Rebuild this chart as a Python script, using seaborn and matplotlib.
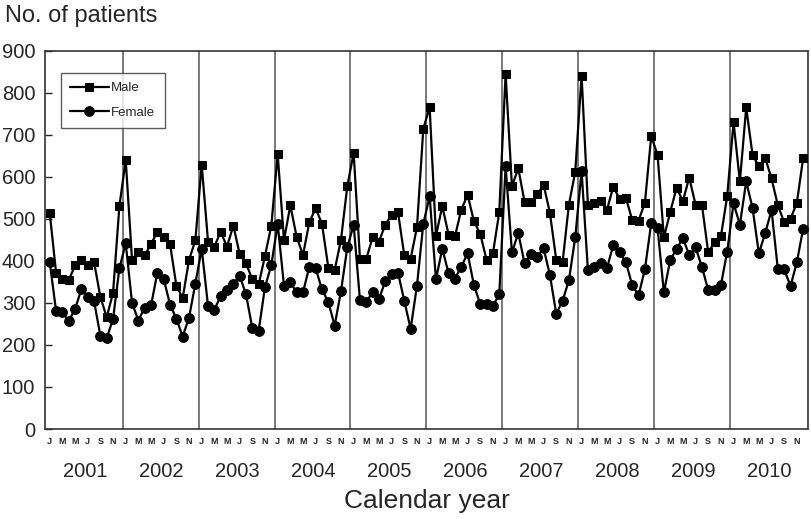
import numpy as np
import pandas as pd
import seaborn as sns
import matplotlib.pyplot as plt
import matplotlib.transforms as mtransforms

years = list(range(2001, 2011))
month_letters = ['J', '', 'M', '', 'M', '', 'J', '', 'S', '', 'N', '']

male = [
    514, 372, 357, 354, 389, 401, 389, 397, 314, 266, 324, 530,   # 2001
    640, 402, 422, 413, 440, 469, 457, 440, 341, 312, 402, 449,   # 2002
    629, 446, 434, 469, 434, 484, 416, 394, 356, 344, 412, 484,   # 2003
    654, 449, 532, 457, 414, 492, 525, 488, 384, 378, 450, 578,   # 2004
    657, 405, 405, 456, 446, 486, 510, 516, 413, 405, 480, 714,   # 2005
    766, 460, 530, 462, 458, 522, 557, 494, 464, 402, 418, 516,   # 2006
    845, 578, 620, 540, 540, 558, 581, 514, 402, 397, 534, 612,   # 2007
    841, 533, 537, 542, 521, 576, 548, 550, 497, 496, 538, 697,   # 2008
    652, 456, 516, 574, 542, 598, 534, 534, 420, 444, 458, 554,   # 2009
    730, 589, 765, 652, 625, 645, 596, 532, 492, 500, 538, 645,   # 2010
]
female = [
    397, 281, 278, 257, 285, 333, 314, 304, 222, 216, 262, 382,
    442, 300, 258, 289, 294, 372, 357, 296, 262, 220, 265, 346,
    429, 293, 284, 316, 330, 345, 365, 320, 240, 234, 338, 390,
    488, 341, 349, 325, 325, 386, 382, 332, 302, 246, 328, 432,
    486, 306, 302, 326, 309, 352, 368, 372, 305, 238, 341, 488,
    554, 356, 429, 370, 358, 386, 418, 342, 297, 298, 293, 320,
    625, 420, 466, 394, 416, 410, 430, 366, 274, 305, 354, 456,
    614, 378, 385, 394, 382, 438, 420, 397, 342, 318, 380, 490,
    478, 325, 402, 428, 454, 414, 432, 386, 330, 330, 342, 422,
    537, 486, 589, 526, 418, 466, 521, 380, 380, 340, 397, 477,
]

months = np.arange(len(male))
df = pd.DataFrame({'month': months, 'Male': male, 'Female': female})

sns.set_style("ticks")
plt.rcParams['font.family'] = ['Liberation Sans', 'DejaVu Sans']

fig = plt.figure(figsize=(8.12, 5.19), dpi=100)
ax = fig.add_axes([0.0554, 0.1734, 0.9396, 0.7289])

# year separators
for k in range(1, len(years)):
    ax.axvline(12 * k - 0.5, color='#555555', lw=1.1, zorder=1)

sns.lineplot(data=df, x='month', y='Male', ax=ax, color='black', lw=1.6,
             marker='s', markersize=6, markeredgecolor='black', label='Male', zorder=3)
sns.lineplot(data=df, x='month', y='Female', ax=ax, color='black', lw=1.6,
             marker='o', markersize=7, markeredgecolor='black', label='Female', zorder=4)

ax.set_xlim(-0.75, 119.75)
ax.set_ylim(0, 900)
ax.set_yticks(range(0, 901, 100))
ax.tick_params(axis='y', direction='in', length=5, width=1, labelsize=14.5, pad=7)

ax.set_xticks(months)
ax.set_xticklabels(month_letters * len(years), fontsize=6.5, fontweight='bold')
ax.tick_params(axis='x', length=0, pad=6)
ax.set_xlabel('')
ax.set_ylabel('')

for side in ['left', 'right', 'top', 'bottom']:
    ax.spines[side].set_visible(True)
    ax.spines[side].set_color('#333333')
    ax.spines[side].set_linewidth(1.2)

trans = mtransforms.blended_transform_factory(ax.transData, ax.transAxes)
for i, yr in enumerate(years):
    ax.text(12 * i + 5.6, -0.112, str(yr), transform=trans, ha='center', va='center', fontsize=14.5)

ax.text(0.5, -0.19, 'Calendar year', transform=ax.transAxes, ha='center', va='center', fontsize=19)
fig.text(5 / 812, 1 - 16 / 519, 'No. of patients', ha='left', va='center', fontsize=17)

leg = ax.legend(loc='upper left', bbox_to_anchor=(0.021, 0.942), borderaxespad=0,
                fontsize=9.5, handlelength=2.9, frameon=True, fancybox=False,
                borderpad=0.7, labelspacing=0.95, handletextpad=0.2)
leg.get_frame().set_edgecolor('#333333')
leg.get_frame().set_linewidth(1.0)

plt.savefig('out.png', dpi=100)
